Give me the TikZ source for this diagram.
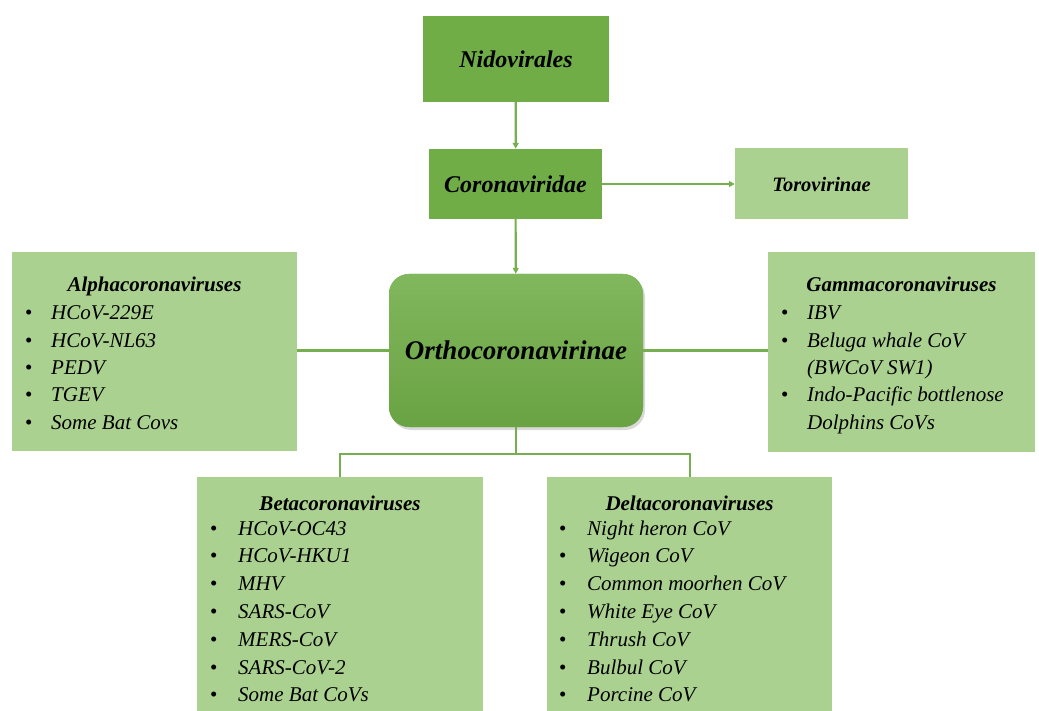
\documentclass[tikz,border=0pt]{standalone}
\usepackage{fontspec}
\setmainfont{Liberation Serif}
\usetikzlibrary{arrows.meta,shadows}

\definecolor{darkleaf}{RGB}{112,173,71}
\definecolor{paleleaf}{RGB}{170,209,143}
\definecolor{linkgreen}{RGB}{118,175,80}

\begin{document}
\begin{tikzpicture}[x=1pt, y=-1pt,
    rank/.style={rectangle, fill=darkleaf, inner sep=0pt, font=\fontsize{24}{28}\selectfont\bfseries\itshape},
    group/.style={rectangle, fill=paleleaf, inner sep=0pt, anchor=north west},
    grouptitle/.style={font=\fontsize{21}{24}\selectfont\bfseries\itshape, anchor=base, inner sep=0pt},
    member/.style={font=\fontsize{21}{24}\selectfont\itshape, anchor=base west, inner sep=0pt},
    dot/.style={font=\fontsize{21}{24}\selectfont, anchor=base west, inner sep=0pt},
    link/.style={draw=linkgreen, line width=2.2pt},
    arrowlink/.style={link, -{Triangle[length=6pt,width=6pt]}}]
    \path[use as bounding box] (0,0) rectangle (1039,711);
    \clip (0,0) rectangle (1039,711);

    % upper ranks
    \node[rank, minimum width=186pt, minimum height=86pt] (nido) at (516,59) {Nidovirales};
    \node[rank, minimum width=173pt, minimum height=70pt] (corona) at (515.5,184) {Coronaviridae};
    \node[rank, fill=paleleaf, minimum width=173pt, minimum height=71pt,
          font=\fontsize{20.5}{24}\selectfont\bfseries\itshape] (toro) at (821.5,184) {Torovirinae};
    \node[rank, rounded corners=20pt, minimum width=254pt, minimum height=153pt,
          top color=darkleaf!88!white, bottom color=darkleaf!94!black,
          drop shadow={shadow xshift=2pt, shadow yshift=-3pt, opacity=0.3},
          font=\fontsize{27}{30}\selectfont\bfseries\itshape] (ortho) at (516,350.5) {Orthocoronavirinae};

    % genus boxes
    \node[group, minimum width=285pt, minimum height=199pt] (alpha) at (12,252) {};
    \node[group, minimum width=267pt, minimum height=200pt] (gamma) at (768,252) {};
    \node[group, minimum width=286pt, minimum height=263pt] (beta) at (197,477) {};
    \node[group, minimum width=285pt, minimum height=263pt] (delta) at (547,477) {};

    \node[grouptitle] (alpha-title) at (154.5,292) {Alphacoronaviruses};
    \foreach \txt [count=\i from 0] in {HCoV-229E, HCoV-NL63, PEDV, TGEV, Some Bat Covs}{
        \node[dot] (alpha-dot-\i) at (25,{320+27.3*\i}) {\textbullet};
        \node[member] (alpha-\i) at (51,{320+27.3*\i}) {\txt};
    }

    \node[grouptitle] (gamma-title) at (901.5,292) {Gammacoronaviruses};
    \foreach \mark/\txt [count=\i from 0] in {\textbullet/IBV, \textbullet/Beluga whale CoV, /(BWCoV SW1),
                                            \textbullet/Indo-Pacific bottlenose, /Dolphins CoVs}{
        \node[dot] (gamma-dot-\i) at (781,{320+27.3*\i}) {\mark};
        \node[member] (gamma-\i) at (807,{320+27.3*\i}) {\txt};
    }

    \node[grouptitle] (beta-title) at (340,510) {Betacoronaviruses};
    \foreach \txt [count=\i from 0] in {HCoV-OC43, HCoV-HKU1, MHV, SARS-CoV, MERS-CoV, SARS-CoV-2, Some Bat CoVs}{
        \node[dot] (beta-dot-\i) at (210,{535+27.8*\i}) {\textbullet};
        \node[member] (beta-\i) at (238,{535+27.8*\i}) {\txt};
    }

    \node[grouptitle] (delta-title) at (689.5,510) {Deltacoronaviruses};
    \foreach \txt [count=\i from 0] in {Night heron CoV, Wigeon CoV, Common moorhen CoV, White Eye CoV,
                                       Thrush CoV, Bulbul CoV, Porcine CoV}{
        \node[dot] (delta-dot-\i) at (559,{535+27.8*\i}) {\textbullet};
        \node[member] (delta-\i) at (587,{535+27.8*\i}) {\txt};
    }

    % connectors
    \draw[arrowlink] (nido) -- (corona);
    \draw[arrowlink] (corona) -- (toro);
    \draw[arrowlink] (corona) -- (ortho);
    \draw[link] (ortho.west) -- (alpha.east |- ortho.west);
    \draw[link] (ortho.east) -- (gamma.west |- ortho.east);
    \coordinate (split) at (516,454);
    \draw[link] (ortho.south) -- (split);
    \draw[link] (beta.north) |- (split) -| (delta.north);
\end{tikzpicture}
\end{document}
